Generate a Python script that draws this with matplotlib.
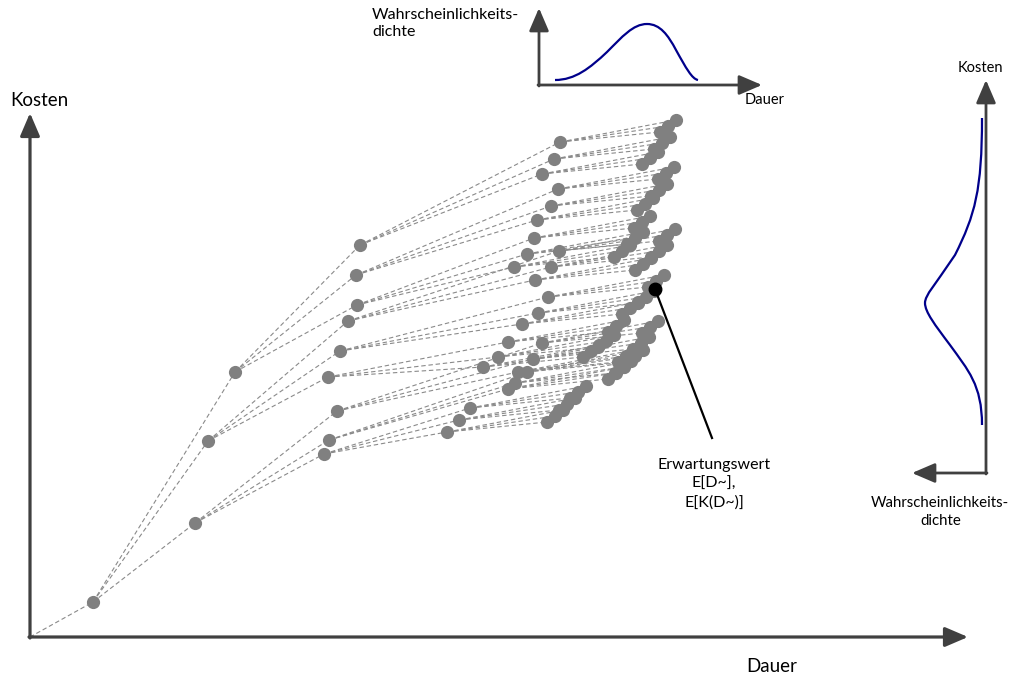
import matplotlib.pyplot as plt
from matplotlib.path import Path
from matplotlib.patches import PathPatch

plt.rcParams['font.family'] = ['Lato', 'DejaVu Sans']

# scenario tree, (Dauer, Kosten) per node, grouped by parent
root = [(0, 0)]
level1 = [(63, 35)]
level2 = [(165, 114), (178, 196), (205, 265)]
level3 = [(294, 183), (299, 197), (307, 226),
          (298, 260), (310, 286), (318, 316),
          (327, 332), (326, 362), (330, 392)]
level3_parent = [0, 0, 0, 1, 1, 1, 2, 2, 2]
level4 = [
    [(417, 205), (429, 217), (440, 229)],
    [(478, 248), (485, 254), (497, 265)],
    [(488, 265), (503, 278), (512, 294)],
    [(453, 270), (468, 280), (478, 295)],
    [(492, 313), (508, 324), (518, 340)],
    [(505, 357), (521, 370), (529, 386)],
    [(484, 370), (497, 383), (504, 399)],
    [(507, 417), (521, 431), (528, 448)],
    [(512, 463), (524, 478), (530, 495)],
]
level5 = [
    [(517, 215), (525, 221), (533, 227)], [(529, 227), (537, 233), (545, 239)], [(540, 239), (548, 245), (556, 251)],
    [(578, 258), (586, 264), (594, 270)], [(585, 264), (593, 270), (601, 276)], [(597, 275), (605, 281), (613, 287)],
    [(588, 275), (596, 281), (604, 287)], [(603, 288), (611, 294), (619, 300)], [(612, 304), (620, 310), (628, 316)],
    [(553, 280), (561, 286), (569, 292)], [(568, 290), (576, 296), (584, 302)], [(578, 305), (586, 311), (594, 317)],
    [(592, 323), (600, 329), (608, 335)], [(608, 334), (616, 340), (624, 346)], [(618, 350), (626, 356), (634, 362)],
    [(605, 367), (613, 373), (621, 379)], [(621, 380), (629, 386), (637, 392)], [(629, 396), (637, 402), (645, 408)],
    [(584, 380), (592, 386), (600, 392)], [(597, 393), (605, 399), (613, 405)], [(604, 409), (612, 415), (620, 421)],
    [(607, 427), (615, 433), (623, 439)], [(621, 441), (629, 447), (637, 453)], [(628, 458), (636, 464), (644, 470)],
    [(612, 473), (620, 479), (628, 485)], [(624, 488), (632, 494), (640, 500)], [(630, 505), (638, 511), (646, 517)],
]
expected = (625, 348)

fig = plt.figure(figsize=(10.12, 6.77), dpi=100)
ax = fig.add_axes([0, 0, 1, 1])
ax.set_xlim(-30, 982)
ax.set_ylim(-40, 637)
ax.axis('off')

dash = dict(color='#8a8a8a', lw=0.8, ls=(0, (4, 2.5)), zorder=1)
dot = dict(marker='o', ms=9.5, color='#808080', mec='none', ls='none', zorder=3)


def edge(p, c):
    ax.plot([p[0], c[0]], [p[1], c[1]], **dash)


edge(root[0], level1[0])
for n in level2:
    edge(level1[0], n)
for n, pi in zip(level3, level3_parent):
    edge(level2[pi], n)
l4_flat = []
for pi, grp in enumerate(level4):
    for n in grp:
        edge(level3[pi], n)
        l4_flat.append(n)
l5_flat = []
for pi, grp in enumerate(level5):
    for n in grp:
        edge(l4_flat[pi], n)
        l5_flat.append(n)

for pts in [level1, level2, level3, l4_flat, l5_flat]:
    ax.plot([p[0] for p in pts], [p[1] for p in pts], **dot)

ax.plot(*expected, marker='o', ms=9, color='black', zorder=4)
ax.plot([expected[0], 682], [expected[1], 199], color='black', lw=1.6, zorder=4)
ax.text(684, 153, 'Erwartungswert\nE[D~],\nE[K(D~)]', ha='center', va='center',
        fontsize=11.5, linespacing=1.4)

axis_col = '#404040'


def arrow(start, tip, lw=2.0):
    ax.annotate('', xy=tip, xytext=start,
                arrowprops=dict(arrowstyle='-|>,head_length=1.4,head_width=0.6',
                                mutation_scale=10, lw=lw, color=axis_col,
                                shrinkA=0, shrinkB=0), zorder=5)


# main axes
arrow((0, -1), (0, 524), lw=2.3)
arrow((-1, 0), (938, 0), lw=2.3)
ax.text(-20, 537, 'Kosten', ha='left', va='center', fontsize=13.5)
ax.text(742, -29, 'Dauer', ha='center', va='center', fontsize=13.5)

# top inset: density of Dauer
arrow((509, 551), (509, 629))
arrow((508, 552), (732, 552))
top_curve = [(525, 557), (545, 557), (560, 569), (577, 585),
             (592, 600), (603, 613), (617, 613),
             (630, 613), (638, 602), (646, 587),
             (656, 569), (662, 558), (668, 557)]
codes = [Path.MOVETO] + [Path.CURVE4] * (len(top_curve) - 1)
ax.add_patch(PathPatch(Path(top_curve, codes), fc='none', ec='#00008b', lw=1.6))
ax.text(342, 622, 'Wahrscheinlichkeits-', ha='left', va='center', fontsize=11.5)
ax.text(342, 605, 'dichte', ha='left', va='center', fontsize=11.5)
ax.text(715, 537, 'Dauer', ha='left', va='center', fontsize=10.5)

# right inset: density of Kosten
arrow((956, 163), (956, 557))
arrow((957, 164), (882, 164))
right_curve = [(952, 519), (952, 447), (945, 422), (925, 382),
               (905, 352), (895, 342), (895, 334),
               (895, 325), (905, 312), (920, 292),
               (938, 267), (952, 252), (952, 212)]
codes = [Path.MOVETO] + [Path.CURVE4] * (len(right_curve) - 1)
ax.add_patch(PathPatch(Path(right_curve, codes), fc='none', ec='#00008b', lw=1.6))
ax.text(950, 569, 'Kosten', ha='center', va='center', fontsize=10.5)
ax.text(910, 134, 'Wahrscheinlichkeits-', ha='center', va='center', fontsize=10.8)
ax.text(911, 116, 'dichte', ha='center', va='center', fontsize=10.8)

fig.savefig('out.png', dpi=100)
